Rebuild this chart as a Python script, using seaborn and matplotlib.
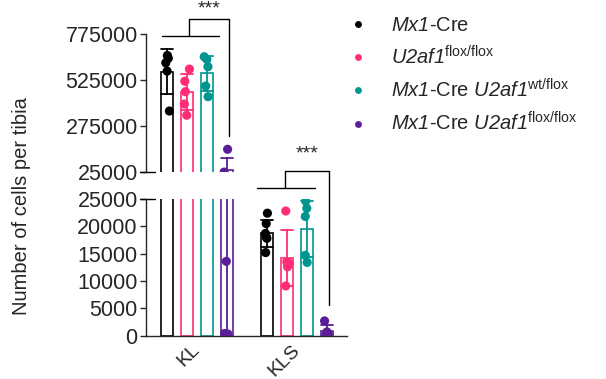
import numpy as np
import pandas as pd
import matplotlib
matplotlib.use("Agg")
import matplotlib.pyplot as plt
import matplotlib.transforms as mtransforms
import seaborn as sns

# ---------------- data ----------------
groups = ["KL", "KLS"]
genotypes = ["Mx1-Cre", "U2af1 flox/flox", "Mx1-Cre U2af1 wt/flox", "Mx1-Cre U2af1 flox/flox"]
legend_labels = [r"$\mathcal{Mx1}$-Cre",
                 r"$\mathcal{U2af1}^{\mathrm{flox/flox}}$",
                 r"$\mathcal{Mx1}$-Cre $\mathcal{U2af1}^{\mathrm{wt/flox}}$",
                 r"$\mathcal{Mx1}$-Cre $\mathcal{U2af1}^{\mathrm{flox/flox}}$"]
colors = ["#000000", "#FF2D78", "#00968F", "#5A1E96"]

kl_mx1 = [660000, 645000, 620000, 575000, 358000]
kl_flox = [586000, 520000, 463000, 396000, 335000]
kl_wt = [653000, 639000, 599000, 494000, 436000]
kl_ko = [150000, 26000, 13600, 400, 300]
kls_mx1 = [22400, 20500, 18700, 18000, 17800, 15200]
kls_flox = [22800, 13500, 13200, 12600, 9100]
kls_wt = [24600, 23300, 21800, 14700, 13400]
kls_ko = [2700, 700, 300, 150, 100]

top_ticks = [25000, 275000, 525000, 775000]
bottom_ticks = [0, 5000, 10000, 15000, 20000, 25000]
break_value = 25000

series = {
    ("KL", genotypes[0]): kl_mx1, ("KL", genotypes[1]): kl_flox,
    ("KL", genotypes[2]): kl_wt, ("KL", genotypes[3]): kl_ko,
    ("KLS", genotypes[0]): kls_mx1, ("KLS", genotypes[1]): kls_flox,
    ("KLS", genotypes[2]): kls_wt, ("KLS", genotypes[3]): kls_ko,
}
rows = []
for (g, gt), vals in series.items():
    for v in vals:
        rows.append({"group": g, "genotype": gt, "value": v})
df = pd.DataFrame(rows)

# ---------------- style ----------------
sns.set_style("ticks")
plt.rcParams["font.family"] = ["Liberation Sans", "DejaVu Sans"]
plt.rcParams["mathtext.fontset"] = "custom"
plt.rcParams["mathtext.rm"] = "Liberation Sans"
plt.rcParams["mathtext.it"] = "Liberation Sans:italic"
plt.rcParams["mathtext.cal"] = "Liberation Sans:italic"
plt.rcParams["mathtext.bf"] = "Liberation Sans:bold"
plt.rcParams["axes.linewidth"] = 1.0

fig = plt.figure(figsize=(6.06, 3.79), dpi=100)
ax_top = fig.add_axes([0.241, 0.5454, 0.3317, 0.3641])
ax_bot = fig.add_axes([0.241, 0.1142, 0.3317, 0.3608])

np.random.seed(3)
for ax in (ax_top, ax_bot):
    sns.barplot(data=df, x="group", y="value", hue="genotype", order=groups,
                hue_order=genotypes, palette=colors, errorbar="sd", capsize=0.45,
                fill=False, gap=0.4, width=0.8, linewidth=1.2,
                err_kws={"linewidth": 1.3}, legend=False, ax=ax)
    pts = df[df["value"] >= break_value] if ax is ax_top else df
    sns.stripplot(data=pts, x="group", y="value", hue="genotype", order=groups,
                  hue_order=genotypes, palette=colors, dodge=True, jitter=0.12,
                  size=6.6, linewidth=0, zorder=4, legend=(ax is ax_top), ax=ax)
    for c in ax.collections:
        c.set_clip_on(True)
    for ln in ax.lines:
        ln.set_clip_on(True)
    for p in ax.patches:
        p.set_clip_on(True)
    ax.set_xlim(-0.51, 1.5)
    ax.set_xlabel("")
    ax.set_ylabel("")
    ax.spines["top"].set_visible(False)
    ax.spines["right"].set_visible(False)
    ax.tick_params(axis="y", labelsize=15.5, length=4, width=1, pad=2)

# top segment
ax_top.set_ylim(25000, 775000)
ax_top.set_yticks(top_ticks)
ax_top.set_yticklabels([str(t) for t in top_ticks])
ax_top.spines["bottom"].set_visible(False)
ax_top.set_xticks([])
# bottom segment
ax_bot.set_ylim(0, 25000)
ax_bot.set_yticks(bottom_ticks)
ax_bot.set_yticklabels([str(t) for t in bottom_ticks])
ax_bot.tick_params(axis="x", length=0, labelsize=14, pad=4)
shift = mtransforms.ScaledTranslation(-6 / 100, 0, fig.dpi_scale_trans)
for lab in ax_bot.get_xticklabels():
    lab.set_rotation(45)
    lab.set_ha("right")
    lab.set_rotation_mode("anchor")
    lab.set_transform(lab.get_transform() + shift)

# break stubs
ax_top.plot([-0.03, 0.045], [0, 0], transform=ax_top.transAxes, color="k", lw=1, clip_on=False)
ax_bot.plot([-0.03, 0.045], [1, 1], transform=ax_bot.transAxes, color="k", lw=1, clip_on=False)

# significance brackets
def bracket(ax, xl0, xl1, xmid, xr, ylow, yup, yright, ytext):
    kw = dict(color="k", lw=1, clip_on=False)
    ax.plot([xl0, xl1], [ylow, ylow], **kw)
    ax.plot([xmid, xmid, xr, xr], [ylow, yup, yup, yright], **kw)
    ax.text((xmid + xr) / 2, ytext, "***", ha="center", va="center", fontsize=14, clip_on=False)

bracket(ax_top, -0.353, 0.22, -0.08, 0.323, 767000, 858000, 222000, 915000)
bracket(ax_bot, 0.603, 1.18, 0.88, 1.323, 27080, 30110, 5600, 33200)

fig.text(0.036, 0.456, "Number of cells per tibia", rotation=90, ha="center", va="center", fontsize=14.5)

handles, _ = ax_top.get_legend_handles_labels()
ax_top.get_legend().remove()
fig.legend(handles, legend_labels, loc="upper left", bbox_to_anchor=(0.535, 0.995),
           frameon=False, fontsize=14.5, markerscale=0.75, handletextpad=0.6,
           labelspacing=0.5, borderaxespad=0.3)

fig.savefig("out.png", dpi=100)
